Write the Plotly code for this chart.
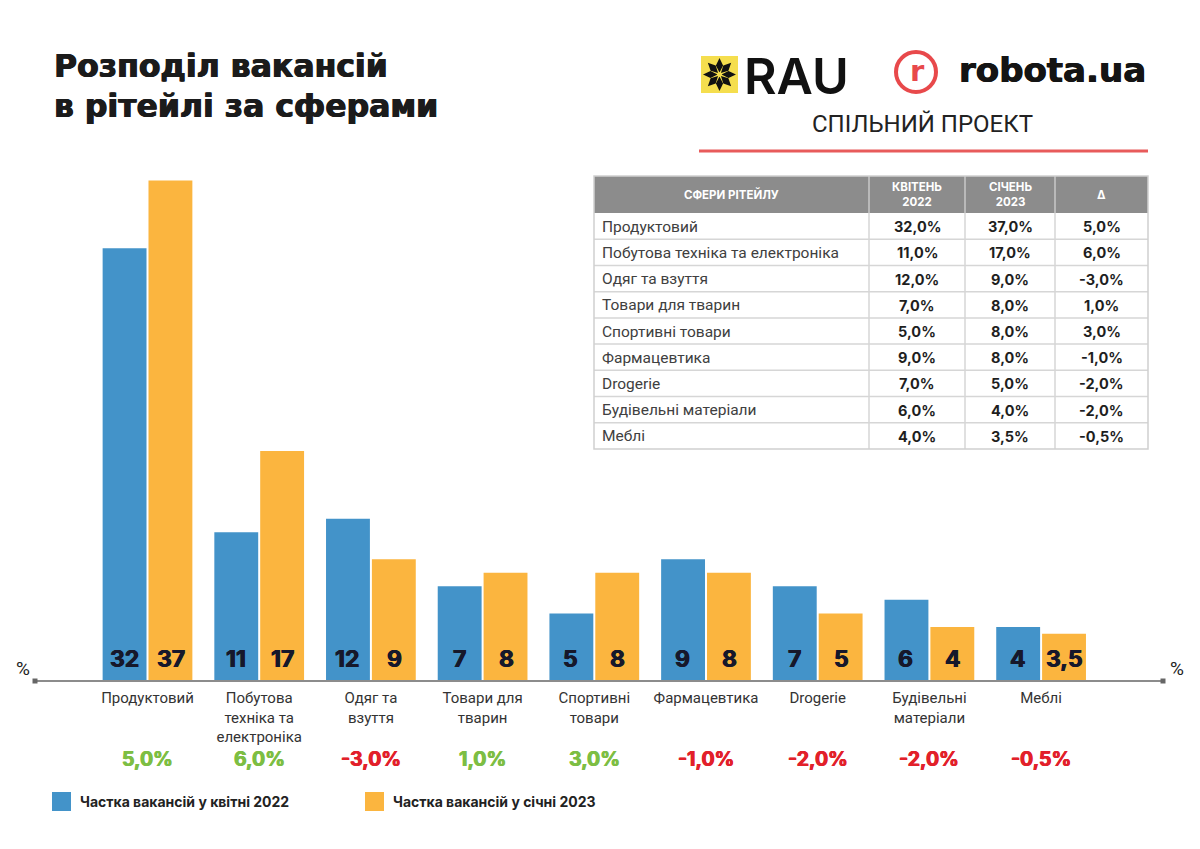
import math
import plotly.graph_objects as go

# ---------------- data ----------------
categories = ["Продуктовий", "Побутова техніка та електроніка", "Одяг та взуття",
              "Товари для тварин", "Спортивні товари", "Фармацевтика", "Drogerie",
              "Будівельні матеріали", "Меблі"]
tick_labels = ["Продуктовий", "Побутова<br>техніка та<br>електроніка", "Одяг та<br>взуття",
               "Товари для<br>тварин", "Спортивні<br>товари", "Фармацевтика", "Drogerie",
               "Будівельні<br>матеріали", "Меблі"]
apr_2022 = [32, 11, 12, 7, 5, 9, 7, 6, 4]
jan_2023 = [37, 17, 9, 8, 8, 8, 5, 4, 3.5]
delta = [5.0, 6.0, -3.0, 1.0, 3.0, -1.0, -2.0, -2.0, -0.5]

series_names = ["Частка вакансій у квітні 2022", "Частка вакансій у січні 2023"]
table_header = ["СФЕРИ РІТЕЙЛУ", "КВІТЕНЬ<br>2022", "СІЧЕНЬ<br>2023", "Δ"]

BLUE = "#4393C9"
ORANGE = "#FBB53F"
GREEN = "#7DBE43"
RED = "#E2202A"
W, H = 1200, 849


def px(x):
    return x / W


def py(y):
    return 1 - y / H


def num(v, dec=None):
    if dec is None:
        s = ("%g" % v)
    else:
        s = f"{v:.{dec}f}"
    return s.replace(".", ",")


def heavy(color, d=0.5):
    return f"{d}px 0 0 {color}, -{d}px 0 0 {color}"


fig = go.Figure()

fig.add_trace(go.Bar(x=categories, y=apr_2022, name=series_names[0],
                     marker=dict(color=BLUE, line=dict(width=0)), showlegend=False))
fig.add_trace(go.Bar(x=categories, y=jan_2023, name=series_names[1],
                     marker=dict(color=ORANGE, line=dict(width=0)), showlegend=False))

annotations = []
shapes = []


def add_text(x, y, text, size, color="#222222", family="Inter", weight=400,
             xanchor="center", yanchor="middle", shadow=None):
    f = dict(family=family, size=size, color=color, weight=weight)
    if shadow:
        f["shadow"] = shadow
    annotations.append(dict(x=px(x), y=py(y), xref="paper", yref="paper", xanchor=xanchor,
                            yanchor=yanchor, showarrow=False, text=text, font=f))


def add_rect(x0, y0, x1, y1, fill, line_color=None, line_width=0):
    shapes.append(dict(type="rect", xref="paper", yref="paper", x0=px(x0), x1=px(x1),
                       y0=py(y1), y1=py(y0), fillcolor=fill,
                       line=dict(width=line_width, color=line_color or fill)))


def add_line(x0, y0, x1, y1, color, width):
    shapes.append(dict(type="line", xref="paper", yref="paper", x0=px(x0), x1=px(x1),
                       y0=py(y0), y1=py(y1), line=dict(color=color, width=width)))


# bar value labels and deltas
for i, c in enumerate(categories):
    for vals, sh in ((apr_2022, -23.5), (jan_2023, 23.5)):
        annotations.append(dict(x=c, y=0, xref="x", yref="y", text=f"<b>{num(vals[i])}</b>",
                                showarrow=False, yanchor="bottom", yshift=6, xshift=sh,
                                font=dict(family="Inter", size=23, color="#16182B", weight=700,
                                          shadow=heavy("#16182B", 0.5))))
    dcol = GREEN if delta[i] >= 0 else RED
    annotations.append(dict(x=c, y=py(759), xref="x", yref="paper",
                            text=f"<b>{num(delta[i], 1)}%</b>", showarrow=False,
                            yanchor="middle", xanchor="center",
                            font=dict(family="Inter", size=19.5, color=dcol, weight=700,
                                      shadow=heavy(dcol, 0.5))))

# ---------------- table ----------------
col_x = [594, 869, 965, 1055, 1148]
head_top, head_bot, tab_bot = 176, 213, 449
row_h = (tab_bot - head_bot) / len(categories)
add_rect(col_x[0], head_top, col_x[-1], head_bot, "#8C8C8C")
add_rect(col_x[0], head_bot, col_x[-1], tab_bot, "white")
for xc in col_x[1:-1]:
    add_line(xc, head_top, xc, head_bot, "#C9C9C9", 1.5)
    add_line(xc, head_bot, xc, tab_bot, "#D6D6D6", 1.5)
for r in range(1, len(categories)):
    yy = head_bot + r * row_h
    add_line(col_x[0], yy, col_x[-1], yy, "#D6D6D6", 1.5)
shapes.append(dict(type="rect", xref="paper", yref="paper", x0=px(col_x[0]), x1=px(col_x[-1]),
                   y0=py(tab_bot), y1=py(head_top), fillcolor="rgba(0,0,0,0)",
                   line=dict(color="#D0D0D0", width=1.5)))
for j, h in enumerate(table_header):
    add_text((col_x[j] + col_x[j + 1]) / 2, (head_top + head_bot) / 2 + 0.5, f"<b>{h}</b>",
             11.5, color="white", family="Inter", weight=700)
table_cols = [apr_2022, jan_2023, delta]
for i, c in enumerate(categories):
    yc = head_bot + row_h * (i + 0.5) + 0.5
    add_text(col_x[0] + 6, yc, c, 15.5, color="#404040", family="Roboto", xanchor="left")
    for j, vals in enumerate(table_cols):
        add_text((col_x[j + 1] + col_x[j + 2]) / 2, yc, f"<b>{num(vals[i], 1)}%</b>",
                 14.5, color="#1e1e1e", family="Inter", weight=700)

# ---------------- title ----------------
add_text(52, 65.5, "<b>Розподіл вакансій</b>", 31.5, color="#1b1b1b",
         family="DejaVu Sans", weight=700, xanchor="left", shadow=heavy("#1b1b1b", 0.6))
add_text(52, 105.5, "<b>в рітейлі за сферами</b>", 31.5, color="#1b1b1b",
         family="DejaVu Sans", weight=700, xanchor="left", shadow=heavy("#1b1b1b", 0.6))

# ---------------- RAU logo ----------------
add_rect(701, 56, 738, 93, "#F5DE4E")
cx, cy = 719.5, 74.5
sub = []
for k in range(8):
    a = k * math.pi / 4
    ca, sa = math.cos(a), math.sin(a)
    pts = [(2, 0), (9, 3.6), (16.5, 0), (9, -3.6)]
    xy = [(px(cx + d * ca - w * sa), py(cy - (d * sa + w * ca))) for d, w in pts]
    sub.append("M " + " L ".join(f"{p:.5f},{q:.5f}" for p, q in xy) + " Z")
shapes.append(dict(type="path", xref="paper", yref="paper", path=" ".join(sub),
                   fillcolor="#111111", line=dict(width=0)))
shapes.append(dict(type="circle", xref="paper", yref="paper", x0=px(717.3), x1=px(721.7),
                   y0=py(76.7), y1=py(72.3), fillcolor="#F5DE4E", line=dict(width=0)))
add_text(742, 76, "RAU", 50, color="#111111", family="Inter", weight=600, xanchor="left")

# ---------------- robota.ua logo ----------------
shapes.append(dict(type="circle", xref="paper", yref="paper", x0=px(896), x1=px(936),
                   y0=py(92), y1=py(52), fillcolor="rgba(0,0,0,0)",
                   line=dict(color="#E8494B", width=4)))
add_text(917.5, 71, "<b>r</b>", 29, color="#E8494B", family="DejaVu Sans", weight=700)
add_text(957, 70, "<b>robota.ua</b>", 34, color="#141414", family="DejaVu Sans",
         weight=700, xanchor="left", shadow=heavy("#141414", 0.5))
add_text(922, 124, "СПІЛЬНИЙ ПРОЕКТ", 24, color="#222222", family="Roboto")
add_line(699, 151, 1148, 151, "#E85B5B", 3)

# ---------------- axis line with end caps ----------------
add_line(35, 681, 1163, 681, "#8C8C8C", 2)
for xe in (35, 1163):
    add_rect(xe - 2.5, 678.5, xe + 2.5, 683.5, "#666666")
for xe in (23, 1177):
    add_text(xe, 668, "%", 19, color="#222222", family="Roboto")

# ---------------- legend ----------------
for (x0, col, name) in [(52, BLUE, series_names[0]), (365, ORANGE, series_names[1])]:
    add_rect(x0, 792, x0 + 19, 811, col)
    add_text(x0 + 26, 801.5, f"<b>{name}</b>", 14, color="#222222", family="Inter",
             weight=700, xanchor="left")

spacing = 111.7
x_left = (35 - 147.5) / spacing
x_right = x_left + 1128 / spacing

fig.update_layout(
    width=W, height=H, autosize=False,
    margin=dict(l=0, r=0, t=0, b=0),
    paper_bgcolor="white", plot_bgcolor="white",
    barmode="group", bargap=0.179, bargroupgap=0.043,
    font=dict(family="Roboto", color="#333333"),
    xaxis=dict(domain=[px(35), px(1163)], range=[x_left, x_right], type="category",
               tickmode="array", tickvals=categories, ticktext=tick_labels,
               showgrid=False, zeroline=False, showline=False, ticks="",
               tickfont=dict(family="Roboto", size=15, color="#333333"),
               ticklabelstandoff=6, fixedrange=True),
    yaxis=dict(domain=[py(681), py(140)], range=[0, 40], showgrid=False, zeroline=False,
               showline=False, showticklabels=False, ticks="", fixedrange=True),
    annotations=annotations,
    shapes=shapes,
    showlegend=False,
)

fig.write_html("out.html", config={"displayModeBar": False},
               post_script="document.body.style.margin='0';document.body.style.overflow='hidden';")
